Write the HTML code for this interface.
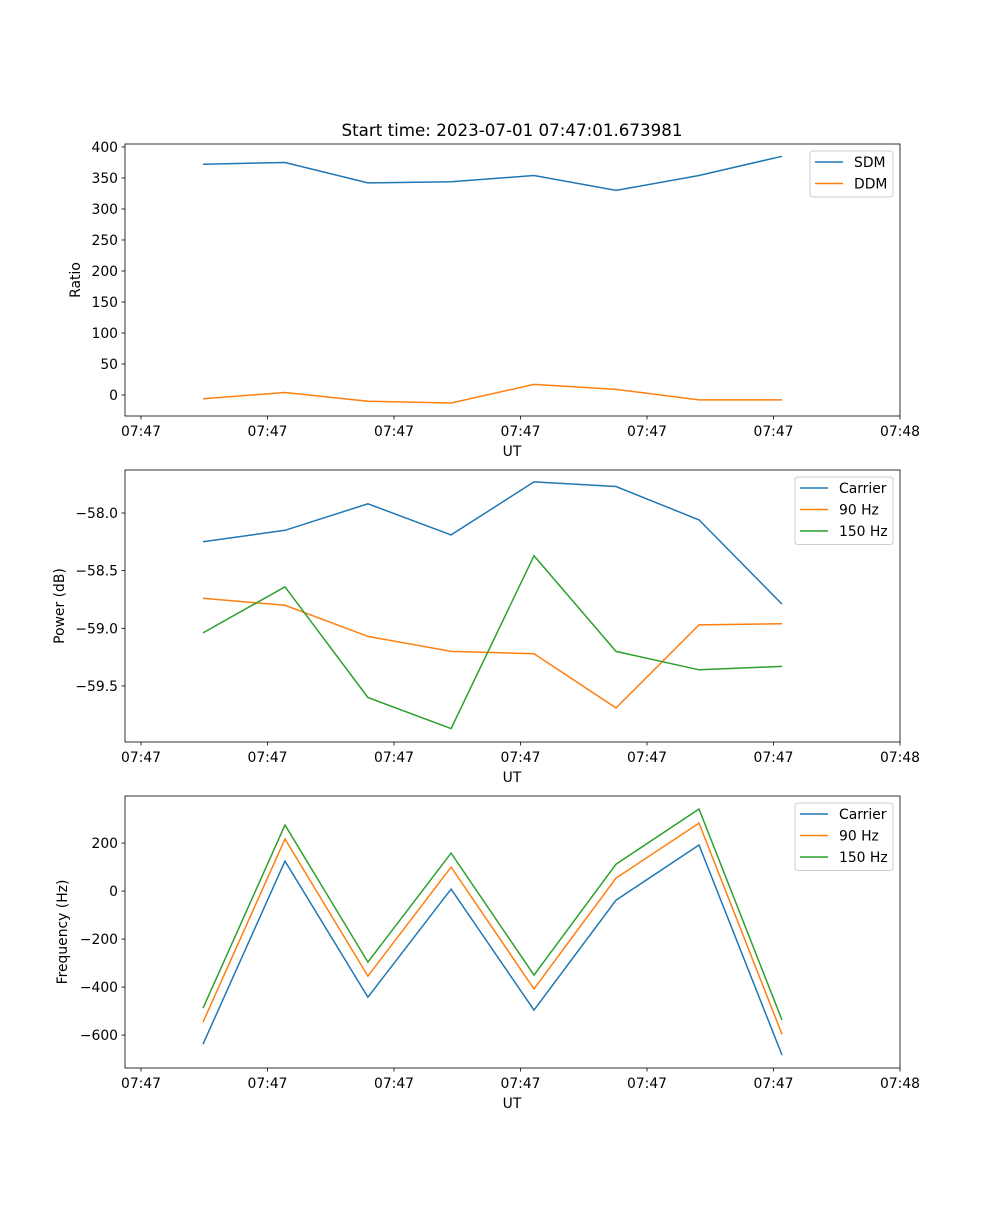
<!DOCTYPE html>
<html><head><meta charset="utf-8"><style>
body{margin:0;background:#fff}
svg text{font-family:"DejaVu Sans","Liberation Sans",sans-serif;fill:#000}
</style></head><body>
<svg id="fig" width="1000" height="1200" xmlns="http://www.w3.org/2000/svg"></svg>
<script>
const times = [4.90, 11.38, 17.94, 24.51, 31.07, 37.55, 44.11, 50.67];
const xTicks = [0, 10, 20, 30, 40, 50, 60];
const xTickLabels = ["07:47","07:47","07:47","07:47","07:47","07:47","07:48"];
const sdm = [372, 375, 342, 344, 354, 330, 354, 385];
const ddm = [-6, 4, -10, -13, 17, 9, -8, -8];
const pCarrier = [-58.25, -58.15, -57.92, -58.19, -57.73, -57.77, -58.06, -58.79];
const p90 = [-58.74, -58.80, -59.07, -59.20, -59.22, -59.69, -58.97, -58.96];
const p150 = [-59.04, -58.64, -59.60, -59.87, -58.37, -59.20, -59.36, -59.33];
const fCarrier = [-638, 125, -442, 8, -496, -38, 192, -683];
const f90 = [-546, 217, -354, 100, -408, 54, 283, -596];
const f150 = [-488, 275, -296, 158, -350, 112, 342, -537];
const ticks1 = [0, 50, 100, 150, 200, 250, 300, 350, 400];
const ticks2 = [-59.5, -59.0, -58.5, -58.0];
const ticks3 = [-600, -400, -200, 0, 200];

const NS = "http://www.w3.org/2000/svg";
const svg = document.getElementById("fig");
function el(tag, attrs, parent, text) {
  const e = document.createElementNS(NS, tag);
  for (const k in attrs) e.setAttribute(k, attrs[k]);
  if (text !== undefined) e.textContent = text;
  (parent || svg).appendChild(e);
  return e;
}
const L = 125, R = 900;
const xScale = v => 141 + v * 12.65;
function fmt(v, dec) { const s = Math.abs(v).toFixed(dec); return (v < 0 ? "\u2212" : "") + s; }

function panel(name, top, bottom, yMin, yMax, yticks, dec, ylabel, ylabelX, series, legend) {
  const g = el("g", {});
  
  
  const y = v => bottom - (v - yMin) / (yMax - yMin) * (bottom - top);
  xTicks.forEach((t, i) => {
    const x = xScale(t);
    el("line", {x1: x, x2: x, y1: bottom, y2: bottom + 3.5, stroke: "#000", "stroke-width": 0.8}, g);
    const tx = el("text", {x: x, y: bottom + 20, "text-anchor": "middle", "font-size": "13.9px"}, g, xTickLabels[i]);
    
    
  });
  yticks.forEach(t => {
    const yy = y(t);
    el("line", {x1: L - 3.5, x2: L, y1: yy, y2: yy, stroke: "#000", "stroke-width": 0.8}, g);
    const ty = el("text", {x: L - 7, y: yy + 5, "text-anchor": "end", "font-size": "13.9px"}, g, fmt(t, dec));
    
    
  });
  const xl = el("text", {x: 512, y: bottom + 40, "text-anchor": "middle", "font-size": "13.9px"}, g, "UT");
  
  
  const cy = (top + bottom) / 2;
  const yl = el("text", {x: ylabelX, y: cy, "text-anchor": "middle", "font-size": "13.9px", transform: `rotate(-90 ${ylabelX} ${cy})`}, g, ylabel);
  
  
  series.forEach(s => {
    const pts = s.data.map((v, i) => xScale(times[i]).toFixed(1) + "," + y(v).toFixed(1)).join(" ");
    const p = el("polyline", {points: pts, fill: "none", stroke: s.color, "stroke-width": 1.5}, g);
    
    
  });
  el("rect", {x: L, y: top, width: R - L, height: bottom - top, fill: "none", stroke: "#000", "stroke-width": 0.8}, g);
  const lg = el("g", {}, g);
  
  
  el("rect", {x: legend.x, y: top + 7, width: R - 7 - legend.x, height: series.length * 21.5 + 3, rx: 3, fill: "#fff", "fill-opacity": 0.8, stroke: "#ccc", "stroke-width": 1}, lg);
  series.forEach((s, i) => {
    const yy = top + 18 + i * 21.5;
    el("line", {x1: legend.x + 5, x2: legend.x + 33, y1: yy, y2: yy, stroke: s.color, "stroke-width": 1.5}, lg);
    const t = el("text", {x: legend.x + 44, y: yy + 5, "font-size": "13.9px"}, lg, s.label);
    
    
  });
}
const B = "#1f77b4", O = "#ff7f0e", G = "#2ca02c";
const title = el("text", {x: 512, y: 136, "text-anchor": "middle", "font-size": "16.7px"}, svg, "Start time: 2023-07-01 07:47:01.673981");


panel("ratio-panel", 144, 416, -33.9, 404.8, ticks1, 0, "Ratio", 80,
  [{id: "line-sdm", label: "SDM", color: B, data: sdm}, {id: "line-ddm", label: "DDM", color: O, data: ddm}], {x: 810});
panel("power-panel", 470, 742, -59.986, -57.627, ticks2, 1, "Power (dB)", 64,
  [{id: "line-power-carrier", label: "Carrier", color: B, data: pCarrier}, {id: "line-power-90hz", label: "90 Hz", color: O, data: p90}, {id: "line-power-150hz", label: "150 Hz", color: G, data: p150}], {x: 795});
panel("frequency-panel", 796, 1068, -737, 396, ticks3, 0, "Frequency (Hz)", 67,
  [{id: "line-freq-carrier", label: "Carrier", color: B, data: fCarrier}, {id: "line-freq-90hz", label: "90 Hz", color: O, data: f90}, {id: "line-freq-150hz", label: "150 Hz", color: G, data: f150}], {x: 795});
</script>
</body></html>
